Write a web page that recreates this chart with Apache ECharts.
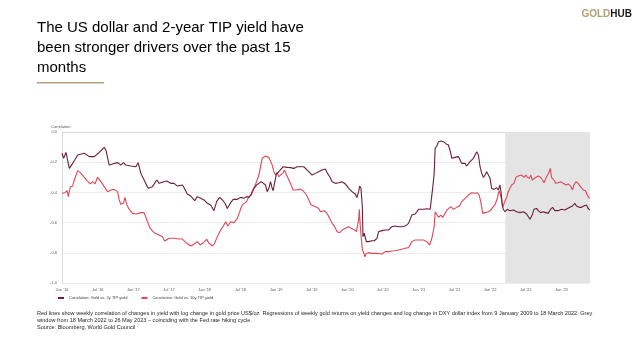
<!DOCTYPE html>
<html><head><meta charset="utf-8">
<script src="https://cdn.jsdelivr.net/npm/echarts@6/dist/echarts.min.js"></script>
<style>html,body{margin:0;padding:0;background:#fff;}#c{width:640px;height:360px;}</style>
</head><body><div id="c"></div>
<script>
// x values: months since 1 Jan 2016
const tickLabels = ["Jan '16","Jul '16","Jan '17","Jul '17","Jan '18","Jul '18","Jan '19","Jul '19","Jan '20","Jul '20","Jan '21","Jul '21","Jan '22","Jul '22","Jan '23"];
const seriesNames = ['Correlation: Gold vs. 2y TIP yield', 'Correlation: Gold vs. 10y TIP yield'];
const greyWindow = [74.55, 88.8];

const months2y = [0.00,0.28,0.67,1.23,1.79,2.63,3.75,4.03,4.59,5.43,6.10,7.10,7.38,7.94,8.50,9.34,9.90,10.35,10.74,11.58,12.42,12.81,13.26,13.81,14.49,15.21,15.94,16.33,17.17,17.62,18.29,18.85,19.41,20.25,20.53,21.08,21.65,22.32,22.76,23.32,23.88,24.44,25.00,25.56,26.01,26.51,26.96,27.41,27.80,28.36,28.80,29.48,30.03,
30.60,31.04,31.44,31.72,32.00,32.28,32.72,33.11,33.51,33.84,34.23,34.51,34.79,35.07,35.35,35.52,35.74,36.08,36.47,36.75,37.20,37.42,37.87,38.43,38.99,39.55,40.11,40.66,41.11,41.34,41.67,42.06,42.62,43.18,43.74,44.30,44.58,45.03,45.42,45.98,46.54,47.10,47.66,48.22,48.77,49.33,49.61,49.89,50.06,50.28,50.51,50.62,50.84,51.18,51.57,52.13,52.52,52.97,53.25,53.81,54.37,54.93,55.49,56.04,56.60,57.16,57.72,58.28,58.84,59.40,59.96,
60.24,60.80,61.36,61.92,62.20,62.37,62.59,62.76,63.04,63.32,63.71,64.15,64.60,64.99,65.39,65.55,66.11,66.67,66.95,67.23,67.51,67.79,68.07,68.35,68.63,68.91,69.19,69.47,69.75,70.03,70.31,70.59,70.87,71.15,71.43,71.71,71.99,72.26,72.66,73.10,73.38,73.66,73.83,74.05,74.22,74.50,74.89,75.34,75.90,76.46,77.02,77.58,78.14,78.42,78.70,78.86,79.09,79.37,79.82,80.10,80.49,80.93,81.38,81.77,82.16,82.50,82.89,83.45,84.01,84.57,84.85,85.41,85.86,86.25,86.53,86.97,87.37,87.76,88.21,88.49,88.76];
const corr2y = [-0.141,-0.174,-0.135,-0.241,-0.208,-0.152,-0.141,-0.150,-0.163,-0.163,-0.141,-0.102,-0.119,-0.219,-0.212,-0.203,-0.219,-0.203,-0.219,-0.225,-0.230,-0.203,-0.274,-0.318,-0.373,-0.362,-0.318,-0.340,-0.329,-0.325,-0.340,-0.340,-0.358,-0.351,-0.369,-0.411,-0.424,-0.455,-0.428,-0.439,-0.450,-0.472,-0.483,-0.521,-0.461,-0.433,-0.450,-0.472,-0.506,-0.468,-0.446,-0.446,-0.433,
-0.439,-0.428,-0.433,-0.417,-0.406,-0.373,-0.351,-0.340,-0.329,-0.329,-0.351,-0.395,-0.373,-0.329,-0.373,-0.389,-0.340,-0.274,-0.263,-0.263,-0.230,-0.219,-0.234,-0.236,-0.241,-0.230,-0.230,-0.230,-0.247,-0.236,-0.269,-0.285,-0.274,-0.263,-0.252,-0.245,-0.269,-0.296,-0.329,-0.340,-0.336,-0.329,-0.344,-0.373,-0.395,-0.411,-0.435,-0.395,-0.358,-0.373,-0.494,-0.693,-0.671,-0.726,-0.726,-0.720,-0.720,-0.704,-0.660,-0.653,-0.649,-0.649,-0.627,-0.623,-0.627,-0.627,-0.623,-0.605,-0.550,-0.543,-0.512,
-0.512,-0.512,-0.508,-0.512,-0.517,-0.362,-0.274,-0.108,-0.093,-0.064,-0.060,-0.064,-0.079,-0.086,-0.141,-0.174,-0.168,-0.163,-0.174,-0.208,-0.219,-0.208,-0.225,-0.212,-0.196,-0.185,-0.174,-0.152,-0.130,-0.152,-0.230,-0.274,-0.300,-0.285,-0.263,-0.258,-0.307,-0.373,-0.380,-0.369,-0.384,-0.351,-0.395,-0.483,-0.512,-0.528,-0.512,-0.521,-0.517,-0.528,-0.534,-0.528,-0.543,-0.550,-0.578,-0.587,-0.550,-0.512,-0.506,-0.521,-0.534,-0.528,-0.534,-0.539,-0.512,-0.499,-0.521,-0.521,-0.512,-0.517,-0.512,-0.499,-0.490,-0.472,-0.490,-0.499,-0.499,-0.490,-0.483,-0.506,-0.517];

const months10y = [0.00,0.50,0.84,1.06,1.40,1.79,2.07,2.63,3.08,3.64,4.19,4.75,5.15,5.54,5.98,6.54,7.10,7.66,8.22,8.78,9.34,9.62,9.90,10.35,10.57,10.91,11.30,11.86,12.42,13.26,13.81,14.26,14.82,15.49,16.33,16.89,17.28,18.01,18.85,19.69,20.25,20.97,21.65,22.20,22.76,23.21,23.77,24.33,24.72,25.28,25.67,26.12,26.68,27.13,27.52,27.91,28.36,28.92,29.48,30.03,
30.32,30.60,31.04,31.44,31.83,32.28,32.72,33.11,33.39,33.67,33.95,34.23,34.51,34.79,35.07,35.35,35.63,35.91,36.19,36.47,36.75,37.20,37.42,37.76,38.15,38.54,38.87,39.27,39.55,40.11,40.55,40.78,41.11,41.50,41.90,42.34,42.79,43.18,43.46,43.74,44.13,44.58,45.03,45.42,45.81,46.26,46.71,47.10,47.66,48.22,48.61,49.05,49.50,49.73,49.89,50.00,50.17,50.34,50.51,50.73,50.96,51.18,51.57,52.13,52.97,53.81,54.37,54.93,55.49,56.04,56.60,57.16,57.72,58.28,58.84,59.40,59.96,
60.24,60.80,61.36,61.81,62.03,62.20,62.37,62.59,62.76,63.04,63.32,63.71,64.04,64.43,64.71,64.99,65.39,65.83,66.39,66.84,67.23,67.51,67.79,68.35,68.91,69.47,69.86,70.20,70.42,70.76,71.15,71.71,72.10,72.43,72.82,73.22,73.38,73.55,73.78,73.94,74.11,74.33,74.56,74.78,75.06,75.34,75.62,76.01,76.35,76.74,77.02,77.30,77.69,78.03,78.25,78.59,78.86,79.09,79.37,79.70,80.10,80.49,80.82,81.05,81.38,81.66,81.94,82.11,82.33,82.72,83.06,83.45,83.84,84.29,84.74,85.13,85.52,85.86,86.08,86.42,86.81,87.20,87.65,88.04,88.32,88.60,88.76];
const corr10y = [-0.406,-0.402,-0.389,-0.428,-0.362,-0.358,-0.318,-0.256,-0.269,-0.296,-0.322,-0.344,-0.329,-0.344,-0.300,-0.329,-0.362,-0.395,-0.384,-0.380,-0.395,-0.450,-0.479,-0.472,-0.433,-0.483,-0.512,-0.539,-0.543,-0.534,-0.534,-0.583,-0.638,-0.667,-0.682,-0.693,-0.722,-0.704,-0.704,-0.709,-0.709,-0.737,-0.755,-0.742,-0.726,-0.748,-0.733,-0.711,-0.737,-0.755,-0.737,-0.693,-0.649,-0.623,-0.594,-0.623,-0.594,-0.600,-0.572,-0.512,
-0.483,-0.472,-0.461,-0.428,-0.417,-0.373,-0.329,-0.285,-0.230,-0.174,-0.168,-0.159,-0.159,-0.168,-0.174,-0.219,-0.263,-0.285,-0.269,-0.296,-0.285,-0.269,-0.252,-0.285,-0.318,-0.351,-0.384,-0.384,-0.389,-0.380,-0.389,-0.384,-0.417,-0.450,-0.483,-0.490,-0.499,-0.506,-0.528,-0.517,-0.521,-0.539,-0.572,-0.605,-0.623,-0.660,-0.667,-0.649,-0.638,-0.627,-0.638,-0.645,-0.660,-0.671,-0.583,-0.512,-0.627,-0.704,-0.777,-0.781,-0.826,-0.804,-0.799,-0.804,-0.804,-0.808,-0.792,-0.792,-0.788,-0.786,-0.781,-0.777,-0.770,-0.766,-0.726,-0.715,-0.715,
-0.720,-0.715,-0.726,-0.748,-0.755,-0.704,-0.671,-0.627,-0.528,-0.539,-0.565,-0.550,-0.565,-0.539,-0.517,-0.528,-0.494,-0.512,-0.499,-0.490,-0.461,-0.450,-0.439,-0.417,-0.402,-0.406,-0.402,-0.424,-0.461,-0.539,-0.534,-0.528,-0.517,-0.499,-0.483,-0.439,-0.406,-0.389,-0.424,-0.450,-0.499,-0.490,-0.450,-0.433,-0.395,-0.373,-0.351,-0.340,-0.300,-0.291,-0.296,-0.285,-0.300,-0.285,-0.300,-0.307,-0.285,-0.318,-0.313,-0.300,-0.291,-0.300,-0.318,-0.336,-0.307,-0.285,-0.263,-0.241,-0.300,-0.318,-0.340,-0.336,-0.329,-0.340,-0.351,-0.344,-0.358,-0.384,-0.351,-0.329,-0.340,-0.362,-0.384,-0.389,-0.417,-0.433,-0.439];

const pair = (xs, ys) => xs.map((x, i) => [x, ys[i]]);
const FONT = 'Liberation Sans';
const chart = echarts.init(document.getElementById('c'), null, {renderer: 'canvas'});
chart.setOption({
  backgroundColor: '#fff',
  animation: false,
  textStyle: {fontFamily: FONT},
  grid: {left: 62, right: 50, top: 132, bottom: 77},
  xAxis: {
    type: 'value', min: 0, max: 88.8, interval: 6,
    axisLine: {lineStyle: {color: '#d9d9d9', width: 1}},
    axisTick: {show: false},
    splitLine: {show: false},
    axisLabel: {fontSize: 4, color: '#595959', margin: 5,
      formatter: v => (Math.abs(v % 6) < 1e-6 ? (tickLabels[Math.round(v / 6)] || '') : '')}
  },
  yAxis: {
    type: 'value', min: -1, max: 0, interval: 0.2,
    name: 'Correlation', nameLocation: 'end', nameGap: 3,
    nameTextStyle: {fontSize: 4, color: '#595959', align: 'left', padding: [0, 0, 0, -11]},
    axisLine: {show: true, lineStyle: {color: '#d9d9d9'}},
    axisTick: {show: false},
    splitLine: {lineStyle: {color: '#ececec', width: 1}},
    axisLabel: {fontSize: 4, color: '#595959', margin: 5, formatter: v => v.toFixed(1)}
  },
  legend: {
    left: 58, top: 296, padding: 0, itemWidth: 6, itemHeight: 2, itemGap: 14, icon: 'rect',
    textStyle: {fontSize: 4, color: '#404040', fontFamily: FONT},
    data: seriesNames
  },
  series: [
    {name: seriesNames[0], type: 'line', data: pair(months2y, corr2y), showSymbol: false, symbol: 'none',
     lineStyle: {color: '#6d1f35', width: 1.1}, itemStyle: {color: '#6d1f35'}, z: 3,
     markArea: {silent: true, itemStyle: {color: '#e4e4e4'}, data: [[{xAxis: greyWindow[0]}, {xAxis: greyWindow[1]}]]}},
    {name: seriesNames[1], type: 'line', data: pair(months10y, corr10y), showSymbol: false, symbol: 'none',
     lineStyle: {color: '#df4657', width: 1.1}, itemStyle: {color: '#df4657'}, z: 2}
  ],
  graphic: [
    {type: 'text', left: 37, top: 18, style: {text: 'The US dollar and 2-year TIP yield have\nbeen stronger drivers over the past 15\nmonths', font: '15px "Liberation Sans"', lineHeight: 20, fill: '#000'}},
    {type: 'rect', shape: {x: 37, y: 82, width: 67, height: 1.6}, style: {fill: '#b3a078'}},
    {type: 'text', right: 8, top: 9, style: {rich: {g: {fill: '#b3a078', font: 'bold 10px "Liberation Sans"'}, h: {fill: '#1a1a1a', font: 'bold 10px "Liberation Sans"'}}, text: '{g|GOLD}{h|HUB}'}},
    {type: 'text', left: 37, top: 310, style: {text: 'Red lines show weekly correlation of changes in yield with log change in gold price US$/oz. Regressions of weekly gold returns on yield changes and log change in DXY dollar index from 9 January 2009 to 18 March 2022. Grey\nwindow from 18 March 2022 to 26 May 2023 \u2013 coinciding with the Fed rate hiking cycle.\nSource: Bloomberg, World Gold Council', font: '5.55px "Liberation Sans"', lineHeight: 7, fill: '#262626'}}
  ]
});
</script></body></html>
